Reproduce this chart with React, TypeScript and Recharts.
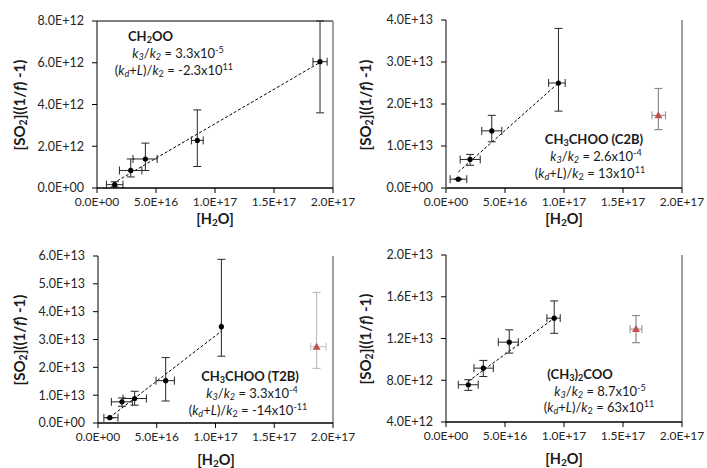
import React from "react";
import { ScatterChart, Scatter, XAxis, YAxis, ErrorBar, ReferenceLine } from "recharts";

const xTicks = [0, 5e16, 1e17, 1.5e17, 2e17];

// CH2OO
const ch2ooX = [1.5e16, 2.86e16, 4.1e16, 8.5e16, 1.89e17];
const ch2ooY = [0.16e12, 0.84e12, 1.39e12, 2.28e12, 6.05e12];
const ch2ooXRange = [[0.8e16, 2.2e16], [1.9e16, 3.8e16], [3.05e16, 5.1e16], [8.0e16, 9.0e16], [1.83e17, 1.95e17]];
const ch2ooYRange = [[0.05e12, 0.3e12], [0.53e12, 1.39e12], [0.84e12, 2.15e12], [1.03e12, 3.74e12], [3.6e12, 8.0e12]];
const ch2ooTrend = [[1.35e16, 0.22e12], [1.9e17, 6.05e12]];

// CH3CHOO (C2B)
const c2bX = [1.04e16, 2.04e16, 3.88e16, 9.53e16];
const c2bY = [0.21e13, 0.68e13, 1.36e13, 2.5e13];
const c2bXRange = [[0.35e16, 1.76e16], [1.2e16, 2.9e16], [3.03e16, 4.73e16], [8.7e16, 1.01e17]];
const c2bYRange = [[0.2e13, 0.22e13], [0.54e13, 0.8e13], [1.1e13, 1.73e13], [1.83e13, 3.8e13]];
const c2bOutlier = { x: 1.8e17, y: 1.73e13, xr: [1.745e17, 1.86e17], yr: [1.39e13, 2.37e13] };
const c2bTrend = [[1.04e16, 0.38e13], [9.53e16, 2.5e13]];

// CH3CHOO (T2B)
const t2bX = [1.0e16, 2.04e16, 3.12e16, 5.76e16, 1.05e17];
const t2bY = [0.19e13, 0.76e13, 0.88e13, 1.52e13, 3.46e13];
const t2bXRange = [[0.5e16, 1.7e16], [1.14e16, 2.93e16], [2.13e16, 4.12e16], [4.94e16, 6.5e16], [1.05e17, 1.05e17]];
const t2bYRange = [[0.19e13, 0.19e13], [0.6e13, 0.9e13], [0.64e13, 1.14e13], [0.79e13, 2.35e13], [2.4e13, 5.88e13]];
const t2bOutlier = { x: 1.86e17, y: 2.74e13, xr: [1.81e17, 1.94e17], yr: [1.96e13, 4.69e13] };
const t2bTrend = [[1.0e16, 0.2e13], [1.05e17, 3.3e13]];

// (CH3)2COO
const dmX = [1.89e16, 3.16e16, 5.36e16, 9.17e16];
const dmY = [7.57e12, 9.16e12, 11.65e12, 13.95e12];
const dmXRange = [[1.04e16, 2.73e16], [2.37e16, 4.01e16], [4.43e16, 6.13e16], [8.55e16, 9.68e16]];
const dmYRange = [[7.03e12, 8.05e12], [8.36e12, 9.9e12], [10.6e12, 12.83e12], [12.5e12, 15.6e12]];
const dmOutlier = { x: 1.61e17, y: 12.9e12, xr: [1.56e17, 1.66e17], yr: [11.6e12, 14.2e12] };
const dmTrend = [[1.89e16, 7.9e12], [9.17e16, 13.95e12]];

const FONT = "Lato, 'Open Sans', sans-serif";

const fmt = (v: number) => {
  const [m, e] = v.toExponential(1).split("e");
  const n = parseInt(e, 10);
  return `${m}E${n < 0 ? "-" : "+"}${String(Math.abs(n)).padStart(2, "0")}`;
};

const toPoints = (xs: number[], ys: number[], xr: number[][], yr: number[][]) =>
  xs.map((x, i) => ({
    x,
    y: ys[i],
    ex: [x - xr[i][0], xr[i][1] - x],
    ey: [ys[i] - yr[i][0], yr[i][1] - ys[i]],
  }));

const Dot = (p: any) => <circle cx={p.cx} cy={p.cy} r={2.6} fill="#000" />;
const Tri = (p: any) => (
  <polygon points={`${p.cx},${p.cy - 4} ${p.cx - 4},${p.cy + 3} ${p.cx + 4},${p.cy + 3}`} fill="#c0504d" />
);

type PanelProps = {
  left: number;
  top: number;
  width: number;
  margin: { top: number; right: number; bottom: number; left: number };
  yDomain: [number, number];
  yTicks: number[];
  points: any[];
  outlier?: any;
  outlierBar?: string;
  trend: number[][];
  topLine?: boolean;
  axisColor?: string;
};

function Panel({ left, top, width, margin, yDomain, yTicks, points, outlier, outlierBar, trend, topLine, axisColor = "#000" }: PanelProps) {
  const red = outlier
    ? [{ x: outlier.x, y: outlier.y, ex: [outlier.x - outlier.xr[0], outlier.xr[1] - outlier.x], ey: [outlier.y - outlier.yr[0], outlier.yr[1] - outlier.y] }]
    : [];
  return (
    <div style={{ position: "absolute", left, top }}>
      <ScatterChart width={width} height={234} margin={margin}>
        <XAxis
          type="number"
          dataKey="x"
          domain={[0, 2e17]}
          ticks={xTicks}
          interval={0}
          tickFormatter={fmt}
          height={30}
          tickSize={5}
          tickMargin={4}
          axisLine={{ stroke: "#000", strokeWidth: 1.5 }}
          tickLine={{ stroke: "#000" }}
          tick={{ fill: "#262626", fontSize: 12, fontFamily: FONT }}
          allowDataOverflow
        />
        <YAxis
          type="number"
          dataKey="y"
          domain={yDomain}
          ticks={yTicks}
          interval={0}
          tickFormatter={fmt}
          width={60}
          tickSize={5}
          tickMargin={8}
          axisLine={{ stroke: axisColor, strokeWidth: axisColor === "#000" ? 1 : 2 }}
          tickLine={{ stroke: "#000" }}
          tick={{ fill: "#262626", fontSize: 12.5, fontFamily: FONT }}
          allowDataOverflow
        />
        {topLine && <ReferenceLine y={yDomain[1]} stroke="#000" strokeWidth={1} />}
        <ReferenceLine x={2e17} stroke="#7f7f7f" strokeWidth={1.5} />
        <ReferenceLine
          segment={[{ x: trend[0][0], y: trend[0][1] }, { x: trend[1][0], y: trend[1][1] }]}
          stroke="#000"
          strokeDasharray="3 2"
          strokeWidth={1}
        />
        <Scatter data={points} shape={Dot} isAnimationActive={false}>
          <ErrorBar dataKey="ey" direction="y" width={4} stroke="#262626" strokeWidth={1} />
          <ErrorBar dataKey="ex" direction="x" width={4} stroke="#262626" strokeWidth={1} />
        </Scatter>
        {outlier && (
          <Scatter data={red} shape={Tri} isAnimationActive={false}>
            <ErrorBar dataKey="ey" direction="y" width={4} stroke={outlierBar} strokeWidth={1.2} />
            <ErrorBar dataKey="ex" direction="x" width={4} stroke={outlierBar} strokeWidth={1} />
          </Scatter>
        )}
      </ScatterChart>
    </div>
  );
}

const subS: React.CSSProperties = { fontSize: "0.7em", verticalAlign: "-0.25em", lineHeight: 0 };
const supS: React.CSSProperties = { fontSize: "0.7em", verticalAlign: "0.45em", lineHeight: 0 };

const Sub = ({ children }: { children: React.ReactNode }) => <span style={subS}>{children}</span>;
const Sup = ({ children }: { children: React.ReactNode }) => <span style={supS}>{children}</span>;

function Txt({ x, y, children, bold, size = 13 }: { x: number; y: number; children: React.ReactNode; bold?: boolean; size?: number }) {
  return (
    <div
      style={{
        position: "absolute",
        left: x,
        top: y,
        transform: "translate(-50%, -50%)",
        whiteSpace: "nowrap",
        fontSize: size,
        fontWeight: bold ? 700 : 400,
        color: "#1a1a1a",
        fontFamily: FONT,
        lineHeight: 1,
      }}
    >
      {children}
    </div>
  );
}

const K3 = () => (
  <>
    <i>k</i><Sub><i>3</i></Sub>/<i>k</i><Sub><i>2</i></Sub>
  </>
);
const KD = () => (
  <>
    (<i>k</i><Sub><i>d</i></Sub>+<i>L</i>)/<i>k</i><Sub>2</Sub>
  </>
);

function YLabel({ x, y }: { x: number; y: number }) {
  return (
    <div
      style={{
        position: "absolute",
        left: x,
        top: y,
        transform: "translate(-50%, -50%) rotate(-90deg)",
        whiteSpace: "nowrap",
        fontSize: 15,
        fontWeight: 700,
        fontFamily: FONT,
        color: "#1a1a1a",
        lineHeight: 1,
      }}
    >
      [SO<Sub>2</Sub>]((1/<i>f</i>) -1)
    </div>
  );
}

function XLabel({ x, y }: { x: number; y: number }) {
  return (
    <Txt x={x} y={y} bold size={14.5}>
      [H<Sub>2</Sub>O]
    </Txt>
  );
}

export default function App() {
  return (
    <div style={{ position: "relative", width: 707, height: 468, background: "#fff", overflow: "hidden", fontFamily: FONT }}>
      <style>{`body{margin:0}`}</style>
      <Panel
        left={0}
        top={0}
        width={370}
        margin={{ top: 21, right: 37, bottom: 16, left: 37 }}
        yDomain={[0, 8e12]}
        yTicks={[0, 2e12, 4e12, 6e12, 8e12]}
        points={toPoints(ch2ooX, ch2ooY, ch2ooXRange, ch2ooYRange)}
        trend={ch2ooTrend}
        topLine
      />
      <Panel
        left={350}
        top={0}
        width={357}
        margin={{ top: 20, right: 25, bottom: 16, left: 36 }}
        yDomain={[0, 4e13]}
        yTicks={[0, 1e13, 2e13, 3e13, 4e13]}
        points={toPoints(c2bX, c2bY, c2bXRange, c2bYRange)}
        outlier={c2bOutlier}
        outlierBar="#8c8c8c"
        trend={c2bTrend}
        axisColor="#7f7f7f"
      />
      <Panel
        left={0}
        top={234}
        width={370}
        margin={{ top: 22, right: 37, bottom: 15, left: 38 }}
        yDomain={[0, 6e13]}
        yTicks={[0, 1e13, 2e13, 3e13, 4e13, 5e13, 6e13]}
        points={toPoints(t2bX, t2bY, t2bXRange, t2bYRange)}
        outlier={t2bOutlier}
        outlierBar="#bfbfbf"
        trend={t2bTrend}
      />
      <Panel
        left={350}
        top={234}
        width={357}
        margin={{ top: 21, right: 25, bottom: 16, left: 36 }}
        yDomain={[4e12, 2e13]}
        yTicks={[4e12, 8e12, 1.2e13, 1.6e13, 2e13]}
        points={toPoints(dmX, dmY, dmXRange, dmYRange)}
        outlier={dmOutlier}
        outlierBar="#8c8c8c"
        trend={dmTrend}
      />

      <YLabel x={19} y={105} />
      <YLabel x={365} y={105} />
      <YLabel x={19} y={340} />
      <YLabel x={365} y={339} />
      <XLabel x={215} y={219} />
      <XLabel x={564} y={219} />
      <XLabel x={216} y={460} />
      <XLabel x={564} y={459} />

      <div style={{ position: "absolute", left: 128, top: 30, fontSize: 13, fontWeight: 700, fontFamily: FONT, color: "#1a1a1a", lineHeight: 1 }}>
        CH<Sub>2</Sub>OO
      </div>
      <Txt x={178} y={53}><K3 /> = 3.3x10<Sup>-5</Sup></Txt>
      <Txt x={174} y={70}><KD /> = -2.3x10<Sup>11</Sup></Txt>

      <Txt x={594} y={139} bold>CH<Sub>3</Sub>CHOO (C2B)</Txt>
      <Txt x={596} y={156}><K3 /> = 2.6x10<Sup>-4</Sup></Txt>
      <Txt x={590} y={173}><KD /> = 13x10<Sup>11</Sup></Txt>

      <Txt x={250} y={376} bold>CH<Sub>3</Sub>CHOO (T2B)</Txt>
      <Txt x={252} y={393}><K3 /> = 3.3x10<Sup>-4</Sup></Txt>
      <Txt x={248} y={410}><KD /> = -14x10<Sup>-11</Sup></Txt>

      <Txt x={580} y={374} bold>(CH<Sub>3</Sub>)<Sub>2</Sub>COO</Txt>
      <Txt x={600} y={391}><K3 /> = 8.7x10<Sup>-5</Sup></Txt>
      <Txt x={599} y={407}><KD /> = 63x10<Sup>11</Sup></Txt>
    </div>
  );
}
